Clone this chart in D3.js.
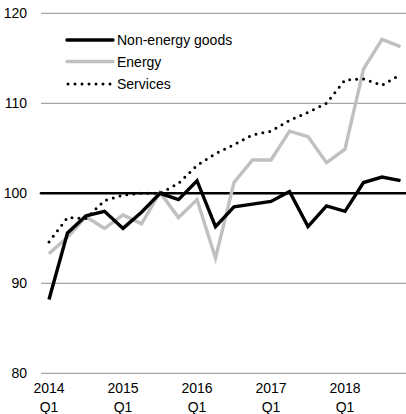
<!DOCTYPE html>
<html>
<head>
<meta charset="utf-8">
<script src="https://cdn.jsdelivr.net/npm/d3@7"></script>
<style>
  html, body { margin: 0; padding: 0; background: #fff; }
  svg { display: block; font-family: "Liberation Sans", Arial, sans-serif; }
</style>
</head>
<body>
<svg id="chart" width="406" height="414"></svg>
<script>
// Quarterly index, 2015 Q3 = 100
const quarters = d3.range(20).map(i => ({ year: 2014 + Math.floor(i / 4), q: (i % 4) + 1 }));
const nonEnergyGoods = [88.2, 95.6, 97.5, 98.0, 96.1, 97.9, 100.0, 99.3, 101.4, 96.3,
                        98.5, 98.8, 99.1, 100.2, 96.3, 98.6, 98.0, 101.2, 101.8, 101.4];
const energy =         [93.3, 95.1, 97.4, 96.1, 97.6, 96.6, 100.1, 97.3, 99.3, 92.8,
                        101.2, 103.7, 103.7, 106.9, 106.3, 103.4, 104.9, 113.8, 117.1, 116.3];
const services =       [94.6, 97.3, 97.2, 99.2, 99.8, 100.0, 100.0, 101.1, 103.1, 104.4,
                        105.4, 106.5, 106.9, 108.1, 109.0, 110.0, 112.6, 112.7, 112.0, 113.2];
const yTicks = [80, 90, 100, 110, 120];
const seriesNames = ["Non-energy goods", "Energy", "Services"];

const svg = d3.select("#chart");
const plotLeft = 41, plotRight = 406;

const x = d3.scaleLinear().domain([0, quarters.length - 1]).range([49, 400.5]);
const y = d3.scaleLinear().domain([80, 120]).range([373.3, 13.3]);

// Horizontal gridlines
svg.append("g").selectAll("line")
  .data(yTicks.filter(v => v !== 100))
  .join("line")
  .attr("x1", plotLeft).attr("x2", plotRight)
  .attr("y1", d => y(d)).attr("y2", d => y(d))
  .attr("stroke", "#a6a6a6").attr("stroke-width", 1.2);

// Y axis labels
svg.append("g").selectAll("text")
  .data(yTicks)
  .join("text")
  .attr("x", 27).attr("y", d => y(d))
  .attr("dy", "0.36em")
  .attr("text-anchor", "end")
  .attr("font-size", 14)
  .attr("fill", "#000")
  .text(d => d);

// X axis labels: first quarter of each year
const xLabels = svg.append("g").selectAll("text")
  .data(quarters.map((d, i) => ({ ...d, i })).filter(d => d.q === 1))
  .join("text")
  .attr("text-anchor", "middle")
  .attr("font-size", 14)
  .attr("fill", "#000");
xLabels.append("tspan").attr("x", d => x(d.i)).attr("y", 393).text(d => d.year);
xLabels.append("tspan").attr("x", d => x(d.i)).attr("y", 412).text(d => "Q" + d.q);

// Base line at 100
svg.append("line")
  .attr("x1", plotLeft).attr("x2", plotRight)
  .attr("y1", y(100)).attr("y2", y(100))
  .attr("stroke", "#000").attr("stroke-width", 2.6)
  .attr("stroke-linecap", "round");

const line = d3.line().x((d, i) => x(i)).y(d => y(d));

const styles = [
  { data: nonEnergyGoods, stroke: "#000", width: 3.4, dash: null, cap: "butt" },
  { data: energy, stroke: "#c0c0c0", width: 3.4, dash: null, cap: "butt" },
  { data: services, stroke: "#000", width: 3, dash: "0,7", cap: "round" }
];

// Draw energy first, then goods, then services on top
[1, 0, 2].forEach(k => {
  const s = styles[k];
  svg.append("path")
    .datum(s.data)
    .attr("d", line)
    .attr("fill", "none")
    .attr("stroke", s.stroke)
    .attr("stroke-width", s.width)
    .attr("stroke-linejoin", "miter")
    .attr("stroke-linecap", s.cap)
    .attr("stroke-dasharray", s.dash);
});

// Legend
const legend = svg.append("g");
seriesNames.forEach((name, k) => {
  const s = styles[k];
  const ly = [40, 61.5, 84][k];
  legend.append("line")
    .attr("x1", k === 2 ? 68 : 67).attr("x2", 113)
    .attr("y1", ly).attr("y2", ly)
    .attr("stroke", s.stroke)
    .attr("stroke-width", s.width)
    .attr("stroke-linecap", s.cap === "round" ? "round" : "round")
    .attr("stroke-dasharray", s.dash);
  legend.append("text")
    .attr("x", 117).attr("y", ly).attr("dy", "0.36em")
    .attr("font-size", 14)
    .attr("fill", "#000")
    .text(name);
});
</script>
</body>
</html>
